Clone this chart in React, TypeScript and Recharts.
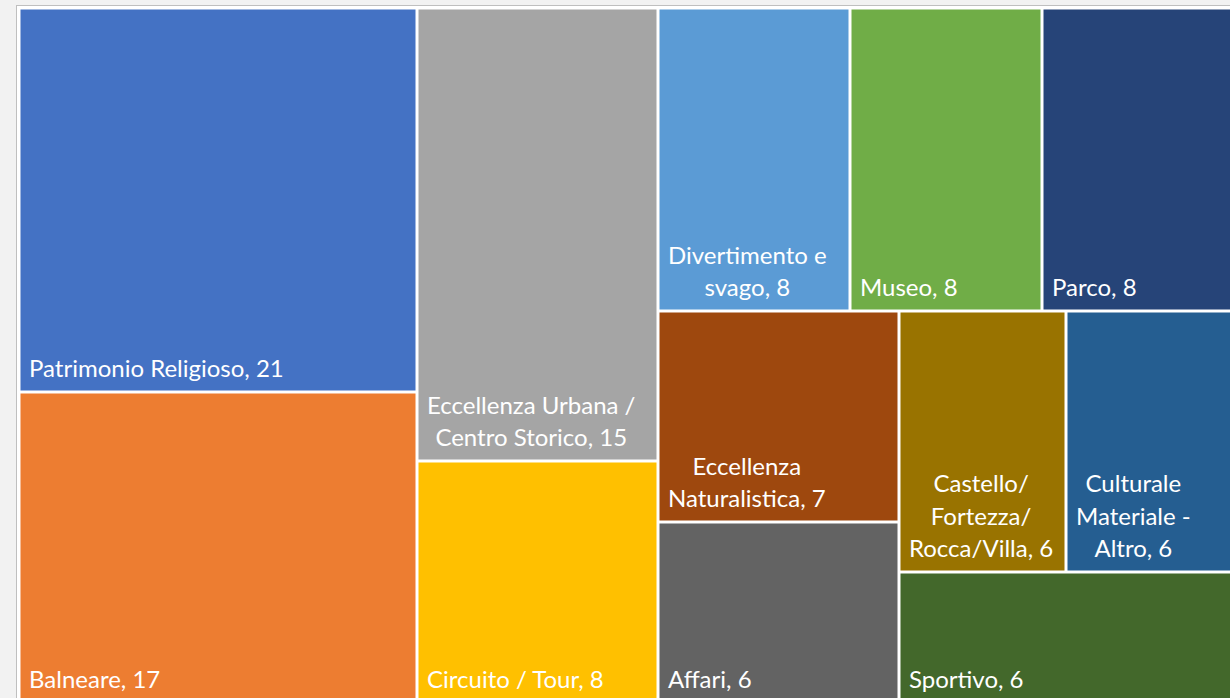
import { Treemap } from "recharts";

// Tourism categories shown as a treemap. Excel nests its tiles a particular
// way, so the grouping below feeds Recharts the same hierarchy and lets its
// squarify pass (aspect ratio 1) lay the tiles out.

const categories = [
  "Patrimonio Religioso",
  "Balneare",
  "Eccellenza Urbana /\nCentro Storico",
  "Circuito / Tour",
  "Divertimento e\nsvago",
  "Museo",
  "Parco",
  "Eccellenza\nNaturalistica",
  "Affari",
  "Castello/\nFortezza/\nRocca/Villa",
  "Culturale\nMateriale -\nAltro",
  "Sportivo",
];

const values = [21, 17, 15, 8, 8, 8, 8, 7, 6, 6, 6, 6];

const colors = [
  "#4472C4",
  "#ED7D31",
  "#A5A5A5",
  "#FFC000",
  "#5B9BD5",
  "#70AD47",
  "#264478",
  "#9E480E",
  "#636363",
  "#997300",
  "#255E91",
  "#43682B",
];

// indices into the arrays above, nested the way the original tiles are grouped
type Spec = number | Spec[];
const layoutTree: Spec[] = [
  [0, 1],
  [2, 3],
  [
    [4, 5, 6],
    [
      [7, 8],
      [[9, 10], 11],
    ],
  ],
];

const FONT = "Lato";
const FONT_SIZE = 24;
const LINE_GAP = 32.5;

type TileNode = {
  name: string;
  size?: number;
  cat?: number;
  children?: TileNode[];
};

function buildNode(spec: Spec): TileNode {
  if (typeof spec === "number") {
    return { name: categories[spec], size: values[spec], cat: spec };
  }
  return { name: "group", children: spec.map(buildNode) };
}

let ctx: CanvasRenderingContext2D | null = null;
function textWidth(s: string): number {
  if (!ctx) ctx = document.createElement("canvas").getContext("2d");
  if (!ctx) return s.length * FONT_SIZE * 0.5;
  ctx.font = `${FONT_SIZE}px ${FONT}`;
  return ctx.measureText(s).width;
}

function renderTile(props: any) {
  const { x, y, width, height, cat } = props;
  if (cat == null) return <g />;

  const lines = categories[cat].split("\n");
  lines[lines.length - 1] += `, ${values[cat]}`;
  const blockW = Math.max(...lines.map(textWidth));
  const cx = x + 10 + blockW / 2;
  const lastBase = y + height - 15;

  return (
    <g>
      <rect
        x={x + 1.5}
        y={y + 1.5}
        width={Math.max(0, width - 3)}
        height={Math.max(0, height - 3)}
        fill={colors[cat]}
      />
      {lines.map((line, i) => (
        <text
          key={i}
          x={lines.length > 1 ? cx : x + 10}
          y={lastBase - (lines.length - 1 - i) * LINE_GAP}
          textAnchor={lines.length > 1 ? "middle" : "start"}
          fill="#ffffff"
          fontFamily={FONT}
          fontSize={FONT_SIZE}
        >
          {line}
        </text>
      ))}
    </g>
  );
}

export default function App() {
  const data = layoutTree.map(buildNode);

  return (
    <div
      style={{
        position: "absolute",
        left: 0,
        top: 0,
        width: 1230,
        height: 698,
        overflow: "hidden",
        background: "#f2f2f2",
      }}
    >
      <div
        style={{
          position: "absolute",
          left: 16,
          top: 5,
          width: 1300,
          height: 800,
          background: "#ffffff",
          borderLeft: "1px solid #bfbfbf",
          borderTop: "1px solid #bfbfbf",
        }}
      />
      <div style={{ position: "absolute", left: 18.5, top: 7.5 }}>
        <Treemap
          width={1214}
          height={694.5}
          data={data}
          dataKey="size"
          nameKey="name"
          aspectRatio={1}
          isAnimationActive={false}
          content={renderTile}
        />
      </div>
    </div>
  );
}
